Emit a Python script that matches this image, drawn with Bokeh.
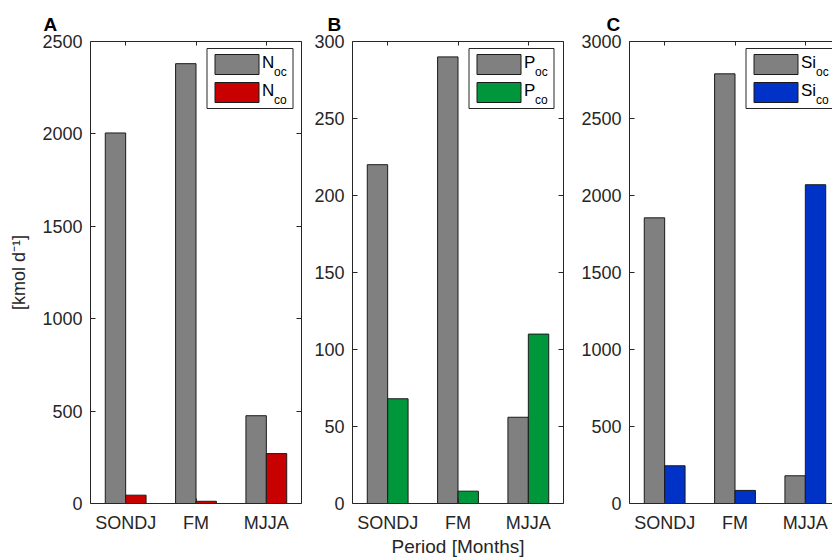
import numpy as np
from bokeh.plotting import figure
from bokeh.models import Range1d, LinearAxis, FixedTicker, Label, CustomJSTickFormatter
from bokeh.layouts import row
from bokeh.embed import file_html
from bokeh.resources import INLINE

# ---------------- data ----------------
periods = ["SONDJ", "FM", "MJJA"]
n_oc = [2005, 2380, 475]
n_co = [45, 12, 270]
p_oc = [220, 290, 56]
p_co = [68, 8, 110]
si_oc = [1855, 2790, 180]
si_co = [245, 85, 2070]
yticks_a = [0, 500, 1000, 1500, 2000, 2500]
yticks_b = [0, 50, 100, 150, 200, 250, 300]
yticks_c = [0, 500, 1000, 1500, 2000, 2500, 3000]

FONT = "Liberation Sans"
AX = "#262626"
GRAY = "#808080"
FRAME_H = 462
PX_PER_X = 211 / 3.0


def make_panel(letter, title_offset, oc, co, color, elem, ymax, yticks,
               left_border, right_border, frame_w, right_axis=True,
               ylabel=None, xlabel=None, legend_w=86, main_w=12):
    x_end = 0.5 + frame_w / PX_PER_X
    p = figure(frame_width=frame_w, frame_height=FRAME_H,
               min_border_left=left_border, min_border_right=right_border,
               min_border_top=41, min_border_bottom=57,
               x_range=Range1d(0.5, x_end), y_range=Range1d(0, ymax),
               output_backend="svg", toolbar_location=None,
               background_fill_color="white", border_fill_color="white")
    p.outline_line_color = None
    p.xgrid.visible = False
    p.ygrid.visible = False

    xs = np.arange(1, len(periods) + 1)
    p.vbar(x=xs - 0.145, width=0.29, top=oc, bottom=0,
           fill_color=GRAY, line_color="#1a1a1a", line_width=1)
    p.vbar(x=xs + 0.145, width=0.29, top=co, bottom=0,
           fill_color=color, line_color="#1a1a1a", line_width=1)

    # axes styling
    xa = p.xaxis[0]
    xa.ticker = FixedTicker(ticks=list(xs))
    xa.major_label_overrides = {int(i): s for i, s in zip(xs, periods)}
    ya = p.yaxis[0]
    ya.ticker = FixedTicker(ticks=yticks)
    for ax in (xa, ya):
        ax.major_tick_in = 5
        ax.major_tick_out = 0
        ax.minor_tick_line_color = None
        ax.axis_line_color = AX
        ax.major_tick_line_color = AX
        ax.major_label_text_color = AX
        ax.major_label_text_font = FONT
        ax.major_label_text_font_size = "18px"
    xa.major_label_standoff = 9
    ya.major_label_standoff = 8
    if ylabel:
        ya.axis_label = ylabel
        ya.axis_label_text_font = FONT
        ya.axis_label_text_font_size = "18px"
        ya.axis_label_text_font_style = "normal"
        ya.axis_label_text_color = AX
        ya.axis_label_standoff = 10
    if xlabel:
        xa.axis_label = xlabel
        xa.axis_label_text_font = FONT
        xa.axis_label_text_font_size = "19px"
        xa.axis_label_text_font_style = "normal"
        xa.axis_label_text_color = AX
        xa.axis_label_standoff = 0

    blank = CustomJSTickFormatter(code="return '';")
    top = LinearAxis(ticker=FixedTicker(ticks=list(xs)), formatter=blank,
                     major_tick_in=4, major_tick_out=0, minor_tick_line_color=None,
                     axis_line_color=AX, major_tick_line_color=AX,
                     major_label_standoff=0, major_label_text_font_size="1px")
    p.add_layout(top, "above")
    if right_axis:
        rgt = LinearAxis(ticker=FixedTicker(ticks=yticks), formatter=blank,
                         major_tick_in=5, major_tick_out=0, minor_tick_line_color=None,
                         axis_line_color=AX, major_tick_line_color=AX,
                         major_label_standoff=0, major_label_text_font_size="1px")
        p.add_layout(rgt, "right")

    # panel letter
    p.title.text = letter
    p.title.align = "left"
    p.title.offset = title_offset
    p.title.text_font = FONT
    p.title.text_font_size = "19px"
    p.title.text_font_style = "bold"
    p.title.text_color = "black"
    p.title.standoff = 13

    # legend (built from pixel offsets inside the frame)
    sy = FRAME_H / ymax
    def gx(px):
        return 0.5 + px / PX_PER_X
    def gy(py):
        return ymax - py / sy
    l0 = 116.5
    p.quad(left=[gx(l0)], right=[gx(l0 + legend_w)], top=[gy(7)], bottom=[gy(67)],
           fill_color="white", line_color=AX, line_width=1)
    sw_l, sw_r = l0 + 8, l0 + 52
    rows_ = [(13, 33, GRAY, "oc"), (41, 61, color, "co")]
    for t, b, fc, sub in rows_:
        p.quad(left=[gx(sw_l)], right=[gx(sw_r)], top=[gy(t)], bottom=[gy(b)],
               fill_color=fc, line_color="#1a1a1a", line_width=1)
        yc = (t + b) / 2.0
        p.add_layout(Label(x=gx(sw_r + 3), y=gy(yc - 2), text=elem,
                           text_font=FONT, text_font_size="17px", text_color="black",
                           text_baseline="middle", text_align="left"))
        p.add_layout(Label(x=gx(sw_r + 3 + main_w), y=gy(yc + 7), text=sub,
                           text_font=FONT, text_font_size="12px", text_color="black",
                           text_baseline="middle", text_align="left"))
    return p


pa = make_panel("A", -47, n_oc, n_co, "#C80000", "N", 2500, yticks_a,
                90, 9, 211, ylabel="[kmol d\u207B\u00B9]", legend_w=86, main_w=12)
pb = make_panel("B", -25, p_oc, p_co, "#00963C", "P", 300, yticks_b,
                42, 15, 211, xlabel="Period [Months]", legend_w=85, main_w=11)
pc = make_panel("C", -23, si_oc, si_co, "#0032C8", "Si", 3000, yticks_c,
                51, 0, 203, right_axis=False, legend_w=95, main_w=15)

layout = row(pa, pb, pc, spacing=0)
open("out.html", "w").write(file_html(layout, INLINE))
